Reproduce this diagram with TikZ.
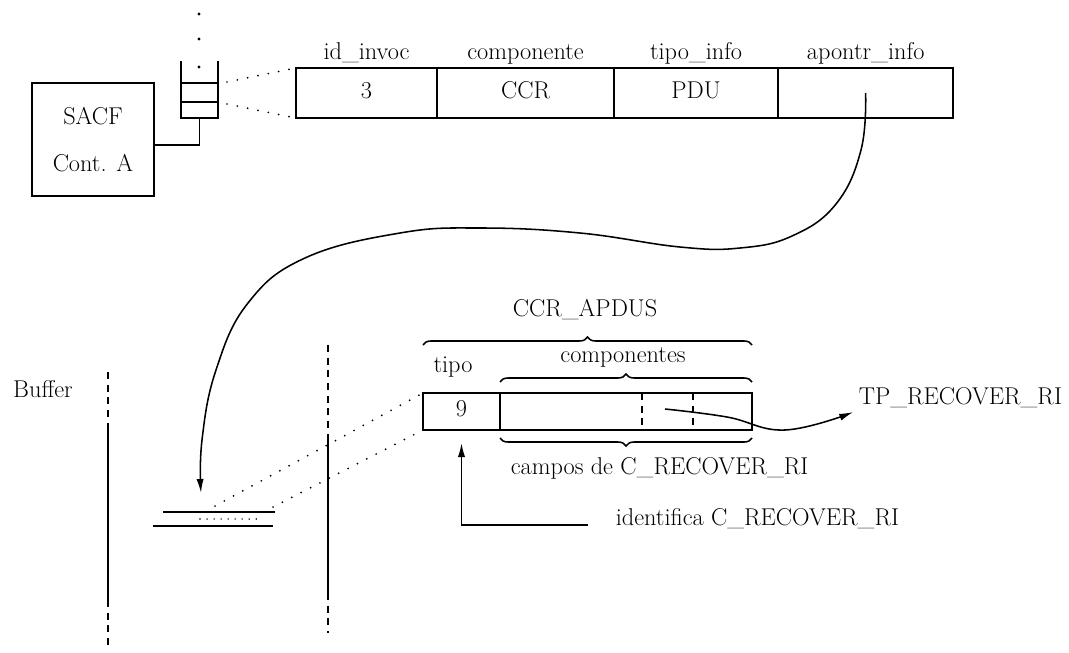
\documentclass[tikz,border=0pt]{standalone}
\usepackage{tikz}
\usetikzlibrary{arrows.meta,positioning,decorations.pathreplacing,calc}

\begin{document}
\begin{tikzpicture}[x=0.025cm, y=-0.025cm,
  font=\LARGE, >={Latex[length=3.5mm,width=1.8mm]}, line width=1.1pt,
  txt/.style={text height=1.8ex, text depth=.5ex, inner sep=0pt},
  cell/.style={draw, minimum height=1.25cm, inner sep=0pt, outer sep=0pt, text height=2.3ex, text depth=.5ex},
  dotline/.style={line cap=round, dash pattern=on 0pt off 7.5pt, line width=1.4pt},
  brc/.style={decorate, decoration={brace, amplitude=0.2cm}},
  brk/.style={dash pattern=on 5pt off 4pt}]
  \useasboundingbox (0,0) rectangle (1069,652);

  % controller and its queue
  \node[draw, minimum width=3.05cm, minimum height=2.825cm, align=center] (sacf) at (93,139.5) {SACF\\[11pt]Cont. A};
  \draw (181,61) |- (218,118) -- (218,61);
  \draw (181,83) -- (218,83) (181,102) -- (218,102);
  \foreach \y in {14,39,67} \fill (199,\y) circle (1.2pt);
  \coordinate (stk) at (199.5,118);
  \coordinate (slota) at (227,82);
  \coordinate (slotb) at (227,104);
  \draw (stk) |- ([yshift=-0.14cm]sacf.east);

  % invocation record
  \node[cell, minimum width=3.525cm] (c1) at (366.5,93) {3};
  \node[cell, minimum width=4.425cm, right=0pt of c1] (c2) {CCR};
  \node[cell, minimum width=4.1cm, right=0pt of c2] (c3) {PDU};
  \node[cell, minimum width=4.375cm, right=0pt of c3] (c4) {};
  \node[txt, above=0.12cm of c1] (l1) {id\_invoc};
  \node[txt, above=0.12cm of c2] (l2) {componente};
  \node[txt, above=0.12cm of c3] (l3) {tipo\_info};
  \node[txt, above=0.12cm of c4] (l4) {apontr\_info};
  \draw[dotline] (slota) -- (c1.north west);
  \draw[dotline] (slotb) -- (c1.south west);

  % buffer
  \node[txt] (buf) at (43,393.5) {Buffer};
  \draw[brk] (108,372) -- (108,423); \draw (108,423) -- (108,600); \draw[brk] (108,600) -- (108,645);
  \draw[brk] (328,345) -- (328,440); \draw (328,440) -- (328,593); \draw[brk] (328,593) -- (328,633);
  \draw[line width=1.3pt] (163,512) -- (275,512);
  \draw[line width=1.3pt] (153,526) -- (273,526);
  \draw[dotline, line width=1.1pt, dash pattern=on 0pt off 5pt] (200,519) -- (260,519);
  \coordinate (bufin) at (201,493);
  \coordinate (bufa) at (215,506);
  \coordinate (bufb) at (273,507);

  \draw[->] plot[smooth, tension=0.7] coordinates {(c4.center) (861,150) (836,204) (792,236) (740,248) (680,247) (580,233) (480,228) (400,233) (305,258) (248,303) (216,370) (202,440) (bufin)};

  % CCR_APDUS
  \node[cell, minimum width=1.925cm, minimum height=0.925cm] (tipo) at (461.5,411.5) {9};
  \node[cell, minimum width=6.3cm, minimum height=0.925cm, right=0pt of tipo] (comp) {};
  \draw[brk] (642,393) -- (642,430);
  \draw[brk] (693,393) -- (693,430);
  \draw[dotline] (bufa) -- (tipo.north west);
  \draw[dotline] (bufb) -- (tipo.south west);

  \node[txt] (lccr) at (585,313) {CCR\_APDUS};
  \node[txt] (ltipo) at (453,368.5) {tipo};
  \node[txt] (lcomp) at (623,358.5) {componentes};
  \draw[brc] ([yshift=1.2cm]tipo.north west) -- ([yshift=1.2cm]comp.north east);
  \draw[brc] ([yshift=0.275cm]comp.north west) -- ([yshift=0.275cm]comp.north east);
  \draw[brc] ([yshift=-0.2cm]comp.south east) -- ([yshift=-0.2cm]comp.south west);

  \node[txt, anchor=west] (campos) at (510,470.5) {campos de C\_RECOVER\_RI};
  \node[txt, anchor=west] (idf) at (615,521.5) {identifica C\_RECOVER\_RI};
  \node[txt, anchor=west] (tp) at (858,400.5) {TP\_RECOVER\_RI};

  \coordinate (idl) at (588,525);
  \draw[->] (idl) -| ([yshift=-0.325cm]tipo.south);
  \coordinate (fld) at (665,409);
  \coordinate (tpin) at ([xshift=-0.12cm, yshift=-0.29cm]tp.west);
  \draw[->] plot[smooth, tension=0.7] coordinates {(fld) (727,417) (785,430) (tpin)};
\end{tikzpicture}
\end{document}
